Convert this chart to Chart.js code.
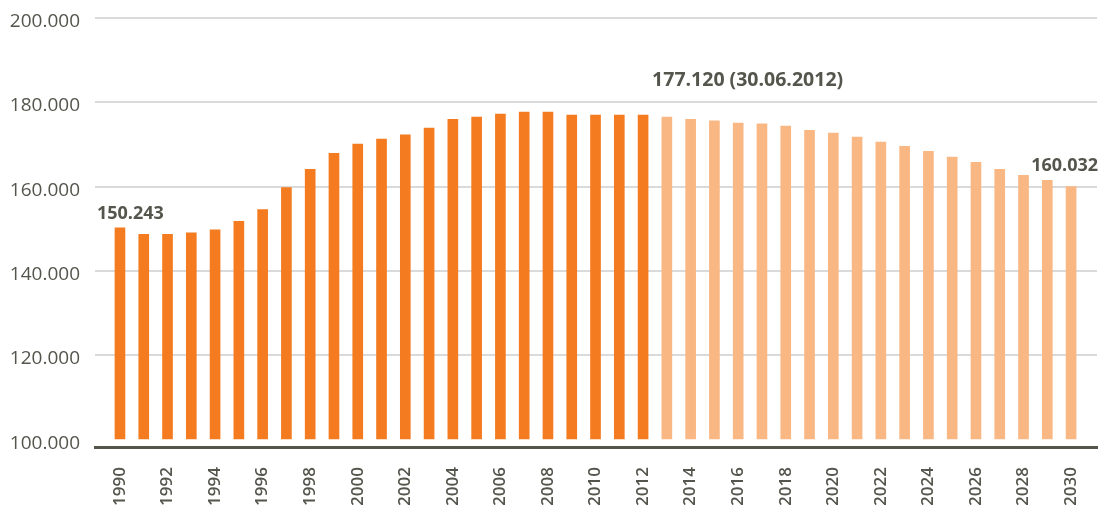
<!DOCTYPE html>
<html>
<head>
<meta charset="utf-8">
<script src="https://cdn.jsdelivr.net/npm/chart.js@4/dist/chart.umd.min.js"></script>
<style>
  html, body { margin: 0; padding: 0; background: #fff; }
  #wrap { width: 1101px; height: 505px; }
</style>
</head>
<body>
<div id="wrap"><canvas id="chart"></canvas></div>
<script>
// population per year, values up to 2012 are counted, later ones forecast
const years = [1990, 1991, 1992, 1993, 1994, 1995, 1996, 1997, 1998, 1999,
  2000, 2001, 2002, 2003, 2004, 2005, 2006, 2007, 2008, 2009,
  2010, 2011, 2012, 2013, 2014, 2015, 2016, 2017, 2018, 2019,
  2020, 2021, 2022, 2023, 2024, 2025, 2026, 2027, 2028, 2029, 2030];
const population = [150243, 148700, 148700, 149100, 149800, 151800, 154600, 159800, 164100, 167900,
  170100, 171300, 172300, 173900, 176000, 176500, 177200, 177700, 177700, 177000,
  177000, 177000, 177000, 176500, 176000, 175600, 175100, 174900, 174400, 173400,
  172700, 171800, 170600, 169600, 168400, 167000, 165800, 164100, 162700, 161500, 160032];
const lastCounted = 2012;
const yTicks = [100000, 120000, 140000, 160000, 180000, 200000];
const xTicks = [1990, 1992, 1994, 1996, 1998, 2000, 2002, 2004, 2006, 2008, 2010,
  2012, 2014, 2016, 2018, 2020, 2022, 2024, 2026, 2028, 2030];
const notes = [
  { text: '150.243', year: 1990, value: 150243 },
  { text: '177.120 (30.06.2012)', year: 2012, value: 177120 },
  { text: '160.032', year: 2030, value: 160032 }
];

const darkOrange = '#f47b20';
const lightOrange = '#f9b784';
const textColor = '#54554c';

function fmt(v) {
  return String(v).replace(/\B(?=(\d{3})+(?!\d))/g, '.');
}

const notePlugin = {
  id: 'notes',
  afterDatasetsDraw(chart) {
    const { ctx, scales: { x, y } } = chart;
    ctx.save();
    ctx.font = 'bold 18px "Open Sans"';
    ctx.fillStyle = textColor;
    ctx.textBaseline = 'alphabetic';
    // first note sits over the 1990 bar, the middle one right of 2012, the last ends at the right edge
    const a = notes[0];
    ctx.textAlign = 'left';
    ctx.fillText(a.text, x.getPixelForValue(a.year) - 23, y.getPixelForValue(a.value) - 9);
    const b = notes[1];
    ctx.font = 'bold 19.5px "Open Sans"';
    ctx.fillText(b.text, x.getPixelForValue(b.year) + 9, y.getPixelForValue(b.value) - 29);
    const c = notes[2];
    ctx.font = 'bold 18px "Open Sans"';
    ctx.textAlign = 'right';
    ctx.fillText(c.text, x.getPixelForValue(c.year) + 27, y.getPixelForValue(c.value) - 16);
    ctx.restore();
  }
};

new Chart(document.getElementById('chart'), {
  type: 'bar',
  data: {
    datasets: [{
      data: years.map((yr, i) => ({ x: yr, y: population[i] })),
      base: 100000,
      barThickness: 10,
      backgroundColor: years.map(yr => yr <= lastCounted ? darkOrange : lightOrange)
    }]
  },
  options: {
    responsive: true,
    maintainAspectRatio: false,
    animation: false,
    layout: { padding: { top: 18, right: 4, left: 0, bottom: 0 } },
    plugins: { legend: { display: false }, tooltip: { enabled: false } },
    scales: {
      x: {
        type: 'linear',
        offset: false,
        min: 1988.95,
        max: 2031.09,
        afterBuildTicks: s => { s.ticks = xTicks.map(v => ({ value: v })); },
        afterFit: s => { s.height = 58; s.paddingLeft = 0; s.paddingRight = 0; },
        grid: { display: false, drawTicks: false, offset: false },
        border: { display: true, color: '#55554b', width: 3 },
        ticks: {
          autoSkip: false,
          minRotation: 90,
          maxRotation: 90,
          padding: 20,
          color: textColor,
          font: { family: 'Open Sans', size: 17, weight: '600' },
          callback: v => String(v)
        }
      },
      y: {
        min: 98300,
        max: 200000,
        afterBuildTicks: s => { s.ticks = yTicks.map(v => ({ value: v })); },
        afterFit: s => { s.width = 95; s.paddingTop = 0; s.paddingBottom = 0; },
        border: { display: false },
        grid: {
          drawTicks: false,
          lineWidth: 2,
          color: c => c.tick && c.tick.value === 100000 ? 'rgba(0,0,0,0)' : '#dadada'
        },
        ticks: {
          padding: 15,
          labelOffset: 3.5,
          color: textColor,
          font: { family: 'Open Sans', size: 19 },
          callback: v => fmt(v)
        }
      }
    }
  },
  plugins: [notePlugin]
});
</script>
</body>
</html>
